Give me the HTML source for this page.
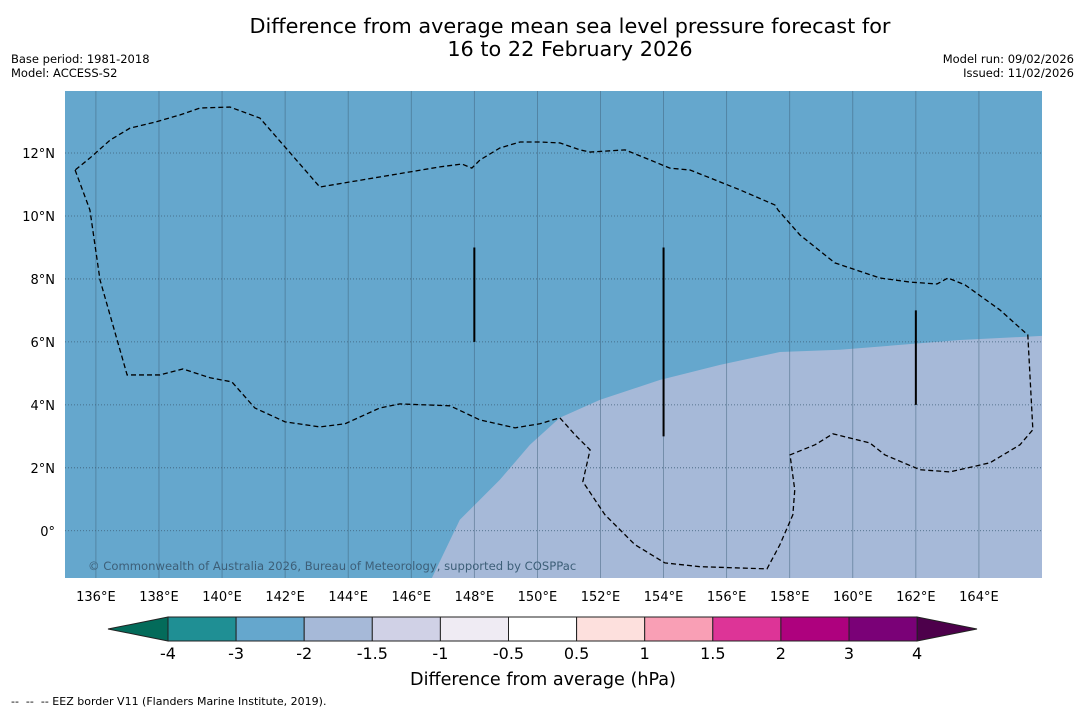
<!DOCTYPE html>
<html><head><meta charset="utf-8"><style>
body{margin:0;width:1085px;height:713px;background:#fff;font-family:"DejaVu Sans","Liberation Sans",sans-serif;overflow:hidden;position:relative}
.t{position:absolute;white-space:nowrap;color:#000}
</style></head><body>
<div class="t" style="left:0;width:1140px;top:15px;text-align:center;font-size:20.8px;line-height:23px">Difference from average mean sea level pressure forecast for<br>16 to 22 February 2026</div>
<div class="t" style="left:11px;top:52px;font-size:11.5px;line-height:14px">Base period: 1981-2018<br>Model: ACCESS-S2</div>
<div class="t" style="right:11px;top:52px;font-size:11.5px;line-height:14px;text-align:right">Model run: 09/02/2026<br>Issued: 11/02/2026</div>
<svg id="chart" width="1085" height="713" style="position:absolute;left:0;top:0" font-family="DejaVu Sans, Liberation Sans, sans-serif"></svg>
<div class="t" style="left:11px;top:695px;font-size:11px">--&nbsp; --&nbsp; -- EEZ border V11 (Flanders Marine Institute, 2019).</div>
<script>
const lonTicks=[136,138,140,142,144,146,148,150,152,154,156,158,160,162,164];
const latTicks=[0,2,4,6,8,10,12];
const levelLabels=["-4","-3","-2","-1.5","-1","-0.5","0.5","1","1.5","2","3","4"];
const levelColors=["#1f8f94","#65a7cd","#a6b9d8","#d0d1e6","#efebf3","#ffffff","#fde0dd","#f99fb5","#dd3497","#ae017e","#7a0177"];
const anomLon=[146.66,147.54,148.81,149.76,150.71,151.98,153.88,155.79,157.69,159.59,163.4,166];
const anomLat=[-1.49,0.35,1.62,2.73,3.59,4.16,4.79,5.27,5.68,5.75,6.06,6.19];
const eezLon=[135.34,135.81,136.13,136.99,138.03,138.76,139.62,140.31,141.04,142.0,143.1,143.9,145.0,145.64,147.23,148.18,149.29,150.08,150.71,151.19,151.67,151.44,152.14,153.09,154.04,155.15,157.28,157.69,158.10,158.16,158.01,158.8,159.37,160.54,161.02,162.13,163.08,164.35,165.3,165.71,165.55,164.66,163.56,163.02,162.67,161.81,160.86,159.43,158.32,157.63,157.53,156.42,155.47,154.84,154.2,153.57,152.78,151.67,151.35,150.71,150.08,149.45,148.81,148.18,147.92,147.61,146.91,143.1,141.2,140.25,139.3,138.67,137.87,137.08,136.45,135.81,135.34];
const eezLat=[11.46,10.19,7.97,4.95,4.95,5.14,4.86,4.73,3.90,3.46,3.30,3.40,3.90,4.03,3.97,3.52,3.27,3.40,3.59,3.05,2.57,1.56,0.51,-0.44,-1.02,-1.14,-1.21,-0.44,0.51,1.30,2.41,2.73,3.08,2.79,2.41,1.94,1.87,2.16,2.73,3.21,6.22,7.02,7.81,8.03,7.84,7.90,8.03,8.51,9.40,10.19,10.35,10.83,11.21,11.46,11.52,11.78,12.10,12.03,12.10,12.32,12.35,12.35,12.16,11.78,11.52,11.65,11.56,10.92,13.11,13.46,13.43,13.21,12.98,12.79,12.41,11.84,11.46];
const lines=[[148,6,9],[154,3,9],[162,4,7]];
const NS="http://www.w3.org/2000/svg",svg=document.getElementById('chart');
const X0=65,X1=1042,Y0=91,Y1=578,LON0=135.02,LON1=166,LAT0=-1.5,LAT1=13.97;
const x=v=>X0+(v-LON0)/(LON1-LON0)*(X1-X0);
const y=v=>Y1-(v-LAT0)/(LAT1-LAT0)*(Y1-Y0);
function el(t,a,p){const e=document.createElementNS(NS,t);for(const k in a)e.setAttribute(k,a[k]);(p||svg).appendChild(e);return e;}
const defs=el('defs',{});const cp=el('clipPath',{id:'c'},defs);el('rect',{x:X0,y:Y0,width:X1-X0,height:Y1-Y0},cp);
const bg=el('rect',{x:X0,y:Y0,width:X1-X0,height:Y1-Y0,fill:levelColors[1]});

const g=el('g',{'clip-path':'url(#c)'});
let d='M'+x(anomLon[0])+','+y(LAT0-1);
anomLon.forEach((v,i)=>d+=' L'+x(v)+','+y(anomLat[i]));
d+=' L'+x(LON1+1)+','+y(anomLat[anomLat.length-1])+' L'+x(LON1+1)+','+y(LAT0-1)+'Z';
const an=el('path',{d,fill:levelColors[2]},g);

lonTicks.forEach(v=>{const l=el('line',{x1:x(v),x2:x(v),y1:Y0,y2:Y1,stroke:'#3d5f78','stroke-width':0.8,'stroke-opacity':0.6},g);

const t=el('text',{x:x(v),y:Y1+23,'text-anchor':'middle','font-size':13});t.textContent=v+'°E';
});
latTicks.forEach(v=>{const l=el('line',{x1:X0,x2:X1,y1:y(v),y2:y(v),stroke:'#3d5f78','stroke-width':0.8,'stroke-dasharray':'1,2'},g);

const t=el('text',{x:X0-10,y:y(v)+5,'text-anchor':'end','font-size':13});t.textContent=v===0?'0°':v+'°N';
});
let e='M'+eezLon.map((v,i)=>x(v)+','+y(eezLat[i])).join(' L');
const ez=el('path',{d:e,fill:'none',stroke:'#000','stroke-width':1.3,'stroke-dasharray':'5,3'},g);

lines.forEach(a=>{const l=el('line',{x1:x(a[0]),x2:x(a[0]),y1:y(a[1]),y2:y(a[2]),stroke:'#000','stroke-width':2},g);
});
const cr=el('text',{x:88,y:570,'font-size':11.6,fill:'#3d5f78'},g);cr.textContent='© Commonwealth of Australia 2026, Bureau of Meteorology, supported by COSPPac';

const CB0=168,CBW=68.1,CBY=617,CBH=24;
const cbx=i=>CB0+i*CBW;
const lt=el('polygon',{points:`108,629 ${CB0},${CBY} ${CB0},${CBY+CBH}`,fill:'#036b5a',stroke:'#222','stroke-width':1});

const rt=el('polygon',{points:`977,629 ${cbx(11)},${CBY} ${cbx(11)},${CBY+CBH}`,fill:'#4d004b',stroke:'#222','stroke-width':1});

levelColors.forEach((c,i)=>{const r=el('rect',{x:cbx(i),y:CBY,width:CBW,height:CBH,fill:c,stroke:'#222','stroke-width':1});
});
levelLabels.forEach((s,i)=>{const t=el('text',{x:cbx(i),y:659,'text-anchor':'middle','font-size':16});t.textContent=s;
});
const ct=el('text',{x:543,y:685,'text-anchor':'middle','font-size':17.6});ct.textContent='Difference from average (hPa)';

</script>
</body></html>
